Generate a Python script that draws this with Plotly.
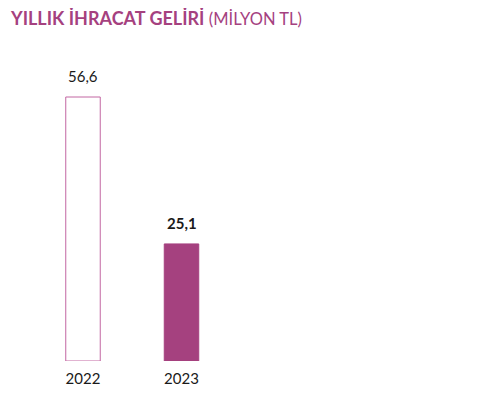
import plotly.graph_objects as go

years = ["2022", "2023"]
values = [56.6, 25.1]
value_labels = ["56,6", "25,1"]

PINK = "#A5417F"
OUTLINE = "#C266A2"

# page has an 8px body margin; compensate in layout
OFF = 8
W, H = 500, 394
T, B = 32, 41
plot_h = H - T - B
px_per_unit = 264 / 56.6

fig = go.Figure()
fig.add_trace(go.Bar(
    x=years, y=values, width=0.35,
    marker=dict(color=["#FFFFFF", PINK],
                line=dict(color=[OUTLINE, PINK], width=1)),
    hoverinfo="skip",
))

for i, (v, lab) in enumerate(zip(values, value_labels)):
    fig.add_annotation(x=i, y=v, xref="x", yref="y",
                       text=lab if i == 0 else "<b>" + lab + "</b>",
                       showarrow=False, yanchor="bottom", yshift=10,
                       font=dict(family="Lato", size=15, color="#1a1a1a"))

title_center_fig = 9.5
title_y = 1 + (T - title_center_fig) / plot_h
fig.add_annotation(
    x=0, y=title_y, xref="paper", yref="paper",
    xanchor="left", yanchor="middle", showarrow=False,
    text="<b><span style='font-size:18px'>YILLIK İHRACAT GELİRİ</span></b> "
         "<span style='font-size:16.5px'>(MİLYON TL)</span>",
    font=dict(family="Lato", size=17, color=PINK))

unit = 98.5
x0 = -(83 - OFF) / unit
fig.update_layout(
    width=W, height=H,
    margin=dict(l=0, r=0, t=T, b=B),
    paper_bgcolor="white", plot_bgcolor="white",
    showlegend=False,
    xaxis=dict(type="category", range=[x0, x0 + W / unit], showgrid=False,
               showline=False, zeroline=False, ticks="", ticklabelstandoff=7,
               tickfont=dict(family="Lato", size=15, color="#1a1a1a")),
    yaxis=dict(range=[0, plot_h / px_per_unit], visible=False),
)

fig.write_html("out.html")
